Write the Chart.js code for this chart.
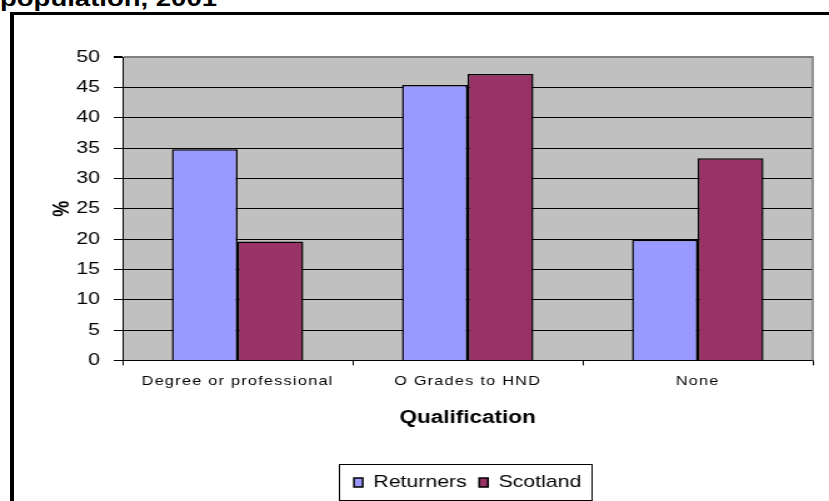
<!DOCTYPE html>
<html>
<head>
<meta charset="utf-8">
<script src="https://cdn.jsdelivr.net/npm/chart.js@4.4.1/dist/chart.umd.min.js"></script>
<style>
  body { margin: 0; background: #fff; overflow: hidden; }
  #title {
    position: absolute; left: 0; top: -12px;
    font: bold 22px Arial, "Liberation Sans", sans-serif; line-height: 22px;
    transform: scaleX(1.25); transform-origin: 0 0; white-space: nowrap;
  }
  #frame {
    position: absolute; left: 10px; top: 12px; width: 830px; height: 500px;
    border-left: 4px solid #000; border-top: 3px solid #000; pointer-events: none;
  }
  #chart { position: absolute; left: 0; top: 0; }
</style>
</head>
<body>
<div id="title">population, 2001</div>
<canvas id="chart" width="663" height="501" style="width: 829px; height: 501px;"></canvas>
<div id="frame"></div>
<script>
const categories = ['Degree or professional', 'O Grades to HND', 'None'];
const returners = [34.8, 45.4, 19.9];
const scotland = [19.6, 47.2, 33.3];
const yMin = 0;
const yMax = 50;
const yStep = 5;

Chart.defaults.font.family = 'Arial, "Liberation Sans", sans-serif';
Chart.defaults.color = '#000';

// grey plot area, its right edge, and the box round the legend
const excelLook = {
  id: 'excelLook',
  beforeDraw(chart) {
    const { ctx, chartArea: a } = chart;
    ctx.save();
    ctx.fillStyle = '#c0c0c0';
    ctx.fillRect(a.left, a.top, a.width, a.height);
    ctx.restore();
  },
  afterDatasetsDraw(chart) {
    const { ctx, chartArea: a } = chart;
    ctx.save();
    ctx.strokeStyle = '#808080';
    ctx.lineWidth = 1.6;
    ctx.beginPath();
    ctx.moveTo(a.right, a.top - 1);
    ctx.lineTo(a.right, a.bottom);
    ctx.stroke();
    ctx.restore();
    // x tick labels come on the next layer, spread them a little
    ctx.letterSpacing = '1px';
  },
  afterDraw(chart) {
    const ctx = chart.ctx;
    ctx.letterSpacing = '0px';
    const lg = chart.legend;
    const hb = lg.legendHitBoxes;
    if (!hb || !hb.length) return;
    const last = hb[hb.length - 1];
    const x0 = Math.round(hb[0].left - 12) + 0.5;
    const x1 = Math.round(last.left + last.width + 8) + 0.5;
    const y0 = Math.round(lg.top) + 0.5;
    const y1 = Math.round(lg.bottom) - 0.5;
    ctx.save();
    ctx.strokeStyle = '#000';
    ctx.lineWidth = 1;
    ctx.strokeRect(x0, y0, x1 - x0, y1 - y0);
    ctx.restore();
  }
};

new Chart(document.getElementById('chart'), {
  type: 'bar',
  data: {
    labels: categories,
    datasets: [
      { label: 'Returners', data: returners, backgroundColor: '#9999ff', borderColor: '#000', borderWidth: 1.5 },
      { label: 'Scotland', data: scotland, backgroundColor: '#993366', borderColor: '#000', borderWidth: 1.5 }
    ]
  },
  options: {
    responsive: false,
    animation: false,
    devicePixelRatio: 1,
    datasets: { bar: { categoryPercentage: 0.5714, barPercentage: 1 } },
    layout: { padding: { top: 57, right: 13, bottom: 0, left: 0 } },
    plugins: {
      tooltip: { enabled: false },
      legend: {
        position: 'bottom',
        fullSize: false,
        labels: { boxWidth: 7, boxHeight: 9, padding: 10, font: { size: 17 }, color: '#000' }
      }
    },
    scales: {
      x: {
        grid: { offset: true, drawOnChartArea: false, tickLength: 5, color: '#000' },
        border: { color: '#000', width: 1 },
        ticks: { font: { size: 13 }, padding: 8, z: 1, maxRotation: 0, autoSkip: false },
        title: { display: true, text: 'Qualification', font: { size: 18, weight: 'bold' }, padding: { top: 0, bottom: 35 } },
        afterFit(scale) { scale.height = 103.6; }
      },
      y: {
        min: yMin,
        max: yMax,
        ticks: { stepSize: yStep, font: { size: 17 }, padding: 11 },
        grid: {
          color: c => (c.tick && c.tick.value === yMax ? '#808080' : '#000'),
          lineWidth: c => (c.tick && c.tick.value === yMax ? 2 : 1),
          tickColor: '#000',
          tickLength: 7
        },
        border: { color: '#000', width: 1 },
        title: { display: true, text: '%', font: { size: 18, weight: 'bold' }, padding: { top: 39, bottom: 0 } },
        afterFit(scale) { scale.width = 98; }
      }
    }
  },
  plugins: [excelLook]
});
</script>
</body>
</html>
